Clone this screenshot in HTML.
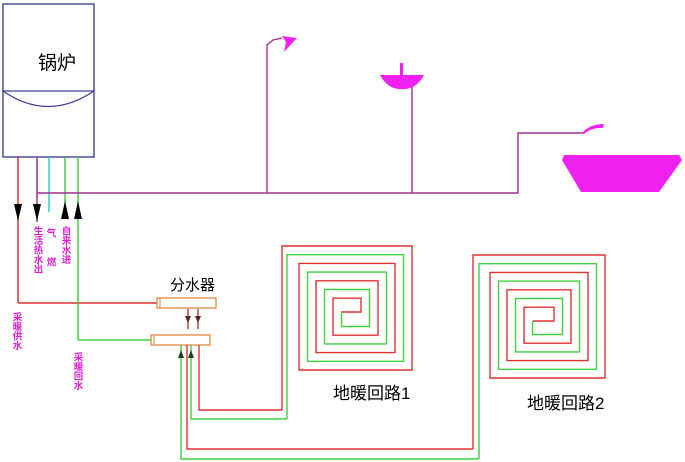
<!DOCTYPE html>
<html><head><meta charset="utf-8"><style>
html,body{margin:0;padding:0;background:#fff;}
svg{display:block;}
text{font-family:"Liberation Sans","Noto Sans CJK SC",sans-serif;}
.v{font-size:9.5px;font-weight:bold;fill:#e020d0;writing-mode:tb;}
</style></head><body>
<svg width="685" height="462" viewBox="0 0 685 462" xmlns="http://www.w3.org/2000/svg">
<!-- boiler -->
<rect x="3" y="4" width="91" height="153" fill="#fff" stroke="#33338a" stroke-width="1.3"/>
<line x1="3" y1="91" x2="94" y2="91" stroke="#4040a0" stroke-width="1.3"/>
<path d="M3 91 Q48 122 94 91" fill="none" stroke="#4040a0" stroke-width="1.3"/>
<text x="38" y="69" font-size="19" fill="#000">锅炉</text>
<!-- boiler pipes -->
<line x1="18" y1="157" x2="18" y2="303" stroke="#e03030" stroke-width="1.5"/>
<line x1="18" y1="303" x2="157" y2="303" stroke="#e03030" stroke-width="1.5"/>
<line x1="37" y1="157" x2="37" y2="222" stroke="#a03090" stroke-width="1.5"/>
<line x1="49" y1="157" x2="49" y2="212" stroke="#30d0d0" stroke-width="1.5"/>
<line x1="65" y1="157" x2="65" y2="205" stroke="#40d040" stroke-width="1.5"/>
<line x1="78" y1="157" x2="78" y2="340" stroke="#40d040" stroke-width="1.5"/>
<line x1="78" y1="340" x2="151" y2="340" stroke="#40d040" stroke-width="1.5"/>
<g fill="#000">
<polygon points="14,204 22,204 18,221"/>
<polygon points="33,204 41,204 37,221"/>
<polygon points="61,219 69,219 65,201"/>
<polygon points="74,219 82,219 78,201"/>
</g>
<!-- magenta water line -->
<polyline points="37,193 518,193 518,133 584,133" fill="none" stroke="#a03090" stroke-width="1.4"/>
<polyline points="267,193 267,45 273,40 282,38" fill="none" stroke="#a03090" stroke-width="1.4"/>
<polygon points="282,36 297,38 284,52 286,42" fill="#f020f0"/>
<line x1="412" y1="86" x2="412" y2="193" stroke="#a03090" stroke-width="1.4"/>
<rect x="400" y="63" width="3" height="13" fill="#f020f0"/>
<path d="M380 75 H424 Q416 90 402 89 Q388 90 380 75 Z" fill="#f020f0"/>
<path d="M582 133 Q590 124 604 124 L603 128 Q592 127 584 134 Z" fill="#f020f0"/>
<polygon points="564,155 679,155 682,160 659,192 581,192 562,160" fill="#f020f0"/>
<!-- labels -->
<text class="v" x="37" y="226">生活热水出</text>
<text class="v" x="50" y="257">燃</text>
<text class="v" x="50" y="228">气</text>
<text class="v" x="65" y="226">自来水进</text>
<text class="v" x="16" y="312">采暖供水</text>
<text class="v" x="77" y="352">采暖回水</text>
<!-- manifolds -->
<text x="170" y="290" font-size="15" fill="#000">分水器</text>
<rect x="157" y="298" width="59" height="10" fill="#fff" stroke="#e08030" stroke-width="1.2"/>
<line x1="160" y1="298" x2="160" y2="308" stroke="#e08030"/>
<rect x="151" y="335" width="59" height="10" fill="#fff" stroke="#e08030" stroke-width="1.2"/>
<line x1="154" y1="335" x2="154" y2="345" stroke="#e08030"/>
<line x1="188" y1="309" x2="188" y2="329" stroke="#a03030" stroke-width="1.3"/>
<line x1="198" y1="309" x2="198" y2="329" stroke="#a03030" stroke-width="1.3"/>
<polygon points="185,316 191,316 188,323" fill="#602020"/>
<polygon points="195,316 201,316 198,323" fill="#602020"/>
<!-- loop feeds -->
<polyline points="199,345 199,410 282,410" fill="none" stroke="#e03030" stroke-width="1.4"/>
<polyline points="191,345 191,419 287,419" fill="none" stroke="#40d040" stroke-width="1.4"/>
<polyline points="187,345 187,449 473,449" fill="none" stroke="#e03030" stroke-width="1.4"/>
<polyline points="181,345 181,459 479,459" fill="none" stroke="#40d040" stroke-width="1.4"/>
<polygon points="178,358 184,358 181,350" fill="#204020"/>
<polygon points="188,358 194,358 191,350" fill="#204020"/>
<!-- spiral 1 -->
<path d="M282 410 V246 H412 V370 H299 V263.4 H395 V352.6 H316 V280.8 H378 V335.2 H333 V298.2 H361 V312 H341" fill="none" stroke="#e03030" stroke-width="1.4"/>
<path d="M287 419 V254.7 H403.5 V361.3 H307.5 V272.1 H386.5 V343.9 H324.5 V289.5 H369.5 V326.5 H341.5 V312" fill="none" stroke="#40d040" stroke-width="1.4"/>
<!-- spiral 2 -->
<path d="M473 449 V255 H605 V378 H490 V272.4 H588 V360.6 H507 V289.8 H571 V343.2 H524 V307.2 H554 V321 H533" fill="none" stroke="#e03030" stroke-width="1.4"/>
<path d="M479 459 V263.7 H596.5 V369.3 H498.5 V281.1 H579.5 V351.9 H515.5 V298.5 H562.5 V334.5 H532.5 V321" fill="none" stroke="#40d040" stroke-width="1.4"/>
<text x="333" y="399" font-size="17" fill="#000">地暖回路1</text>
<text x="527" y="409" font-size="17" fill="#000">地暖回路2</text>
</svg>
</body></html>
